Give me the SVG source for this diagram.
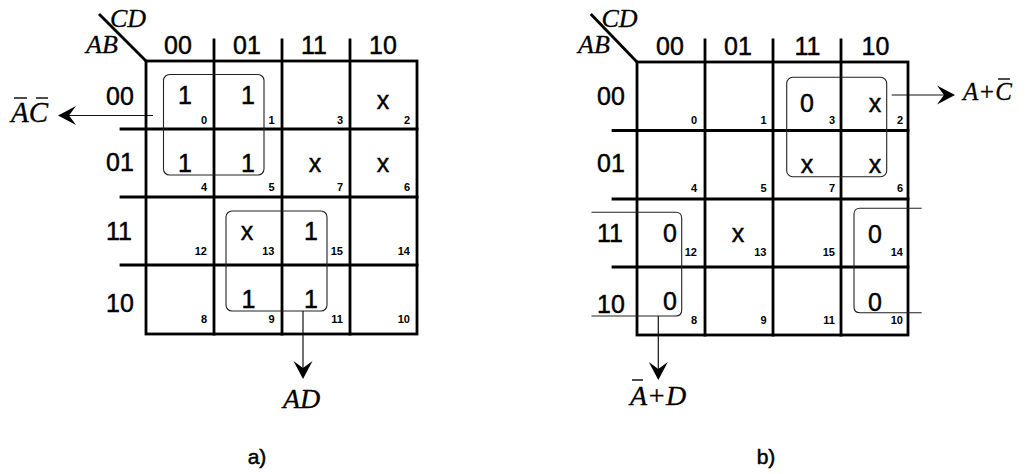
<svg xmlns="http://www.w3.org/2000/svg" width="1026" height="474" viewBox="0 0 1026 474">
<style>
.grid{stroke:#000;stroke-width:2.8;fill:none;stroke-linecap:square}
.loop{stroke:#222;stroke-width:1.1;fill:none}
.conn{stroke:#111;stroke-width:1.2;fill:none}
.bar{stroke:#000;stroke-width:1.4}
.hd{font-family:"Liberation Sans",Arial,sans-serif;font-size:25px;fill:#000;stroke:#000;stroke-width:0.45}
.cell{font-family:"Liberation Sans",Arial,sans-serif;font-size:25px;fill:#000;stroke:#000;stroke-width:0.45;text-anchor:middle}
.idx{font-family:"Liberation Sans",Arial,sans-serif;font-size:11px;font-weight:bold;fill:#000;text-anchor:end}
.var{font-family:"Liberation Serif","Times New Roman",serif;font-style:italic;fill:#000;stroke:#000;stroke-width:0.3}
.cap{font-family:"Liberation Sans",Arial,sans-serif;font-size:21px;fill:#000;stroke:#000;stroke-width:0.5;text-anchor:middle}
</style>
<defs>
<marker id="ah" markerUnits="userSpaceOnUse" viewBox="-19 -10 20 20" markerWidth="20" markerHeight="20" refX="-4" refY="0" orient="auto">
<path d="M0,0 L-18,-9.5 L-11,0 L-18,9.5 Z" fill="#000"/>
</marker>
</defs>
<rect width="1026" height="474" fill="#fff"/>

<!-- Map a -->
<g id="map-a">
<g id="grid-a">
<rect class="grid" x="146" y="61" width="271" height="273"/>
<path class="grid" d="M214,40 V334 M282,40 V334 M350,40 V334 M121,129 H417 M121,197 H417 M121,265 H417"/>
<path class="grid" d="M100,15 L146,61" stroke-linecap="butt"/>
</g>
<g id="labels-a">
<text class="var" x="110" y="26.5" font-size="26">CD</text>
<text class="var" x="86" y="53" font-size="26">AB</text>
<text class="hd" x="178" y="54" text-anchor="middle">00</text>
<text class="hd" x="247" y="54" text-anchor="middle">01</text>
<text class="hd" x="314" y="54" text-anchor="middle">11</text>
<text class="hd" x="383" y="54" text-anchor="middle">10</text>
<text class="hd" x="106" y="105">00</text>
<text class="hd" x="106" y="171">01</text>
<text class="hd" x="106" y="240">11</text>
<text class="hd" x="106" y="312">10</text>
</g>
<g id="cells-a">
<text class="cell" x="185" y="104">1</text>
<text class="cell" x="248" y="104">1</text>
<text class="cell" x="383" y="108.5">x</text>
<text class="cell" x="185" y="171.5">1</text>
<text class="cell" x="248" y="171.5">1</text>
<text class="cell" x="315" y="172">x</text>
<text class="cell" x="383" y="172">x</text>
<text class="cell" x="247" y="240">x</text>
<text class="cell" x="311" y="240">1</text>
<text class="cell" x="248.5" y="308">1</text>
<text class="cell" x="311" y="308">1</text>
</g>
<g id="index-a">
<text class="idx" x="207" y="123.5">0</text>
<text class="idx" x="274.5" y="123.5">1</text>
<text class="idx" x="343" y="123.5">3</text>
<text class="idx" x="410" y="123.5">2</text>
<text class="idx" x="207" y="191">4</text>
<text class="idx" x="274.5" y="191">5</text>
<text class="idx" x="343" y="191">7</text>
<text class="idx" x="410" y="191">6</text>
<text class="idx" x="207" y="255">12</text>
<text class="idx" x="274.5" y="255">13</text>
<text class="idx" x="343" y="255">15</text>
<text class="idx" x="410" y="255">14</text>
<text class="idx" x="207" y="323">8</text>
<text class="idx" x="274.5" y="323">9</text>
<text class="idx" x="343" y="323">11</text>
<text class="idx" x="410" y="323">10</text>
</g>
<g id="loops-a">
<rect id="loop-a1" class="loop" x="163.5" y="74.5" width="100.5" height="100.5" rx="6"/>
<rect id="loop-a2" class="loop" x="226" y="211" width="101" height="100" rx="6"/>
</g>
<g id="term-a1">
<text class="var" x="11" y="121.5" font-size="29">AC</text>
<line class="bar" x1="14" y1="98" x2="27" y2="98"/>
<line class="bar" x1="36" y1="98" x2="48" y2="98"/>
</g>
<g id="term-a2">
<text class="var" x="283" y="408" font-size="28">AD</text>
</g>
<text id="cap-a" class="cap" x="257" y="464">a)</text>
</g>

<!-- Map b -->
<g id="map-b">
<g id="grid-b">
<rect class="grid" x="637" y="62" width="271" height="273"/>
<path class="grid" d="M705,40 V335 M773,40 V335 M841,40 V335 M613,130.5 H908 M613,199 H908 M613,267 H908"/>
<path class="grid" d="M591.7,15 L637,62" stroke-linecap="butt"/>
</g>
<g id="labels-b">
<text class="var" x="601.5" y="26.7" font-size="26">CD</text>
<text class="var" x="578" y="53.3" font-size="26">AB</text>
<text class="hd" x="670" y="55" text-anchor="middle">00</text>
<text class="hd" x="738" y="55" text-anchor="middle">01</text>
<text class="hd" x="807.5" y="55" text-anchor="middle">11</text>
<text class="hd" x="875.5" y="55" text-anchor="middle">10</text>
<text class="hd" x="597" y="105">00</text>
<text class="hd" x="597" y="171.7">01</text>
<text class="hd" x="597" y="241.7">11</text>
<text class="hd" x="597" y="312.7">10</text>
</g>
<g id="cells-b">
<text class="cell" x="807" y="111.7">0</text>
<text class="cell" x="875" y="111.7">x</text>
<text class="cell" x="807" y="173">x</text>
<text class="cell" x="875" y="173">x</text>
<text class="cell" x="670" y="242">0</text>
<text class="cell" x="738" y="241.7">x</text>
<text class="cell" x="875" y="242.5">0</text>
<text class="cell" x="670" y="310">0</text>
<text class="cell" x="875" y="310.5">0</text>
</g>
<g id="index-b">
<text class="idx" x="697" y="124">0</text>
<text class="idx" x="766.5" y="124">1</text>
<text class="idx" x="835" y="124">3</text>
<text class="idx" x="903" y="124">2</text>
<text class="idx" x="697" y="191.7">4</text>
<text class="idx" x="766.5" y="191.7">5</text>
<text class="idx" x="835" y="191.7">7</text>
<text class="idx" x="903" y="191.7">6</text>
<text class="idx" x="697" y="256">12</text>
<text class="idx" x="766.5" y="256">13</text>
<text class="idx" x="835" y="256">15</text>
<text class="idx" x="903" y="256">14</text>
<text class="idx" x="697" y="324">8</text>
<text class="idx" x="766.5" y="324">9</text>
<text class="idx" x="835" y="324">11</text>
<text class="idx" x="903" y="324">10</text>
</g>
<g id="loops-b">
<rect id="loop-b1" class="loop" x="786.7" y="77.3" width="100" height="99.4" rx="6"/>
<path id="loop-b2" class="loop" d="M591.5,212.3 H675.7 Q681.7,212.3 681.7,218.3 V310 Q681.7,316 675.7,316 H591.5"/>
<path id="loop-b3" class="loop" d="M921.7,208.3 H860 Q854,208.3 854,214.3 V306.7 Q854,312.7 860,312.7 H921.7"/>
</g>
<g id="term-b1">
<text class="var" x="963" y="100" font-size="25">A+C</text>
<line class="bar" x1="998" y1="79" x2="1010" y2="79"/>
</g>
<g id="term-b2">
<text class="var" x="630" y="405" font-size="28">A+D</text>
<line class="bar" x1="632" y1="380" x2="643" y2="380"/>
</g>
<text id="cap-b" class="cap" x="766" y="464">b)</text>
</g>

<!-- Connectors -->
<g id="connectors">
<line class="conn" x1="153" y1="115.5" x2="62" y2="115.5" marker-end="url(#ah)"/>
<line class="conn" x1="303" y1="311" x2="303" y2="375" marker-end="url(#ah)"/>
<line class="conn" x1="891.7" y1="95" x2="951" y2="95" marker-end="url(#ah)"/>
<line class="conn" x1="658.3" y1="316" x2="658.3" y2="376" marker-end="url(#ah)"/>
</g>
</svg>
